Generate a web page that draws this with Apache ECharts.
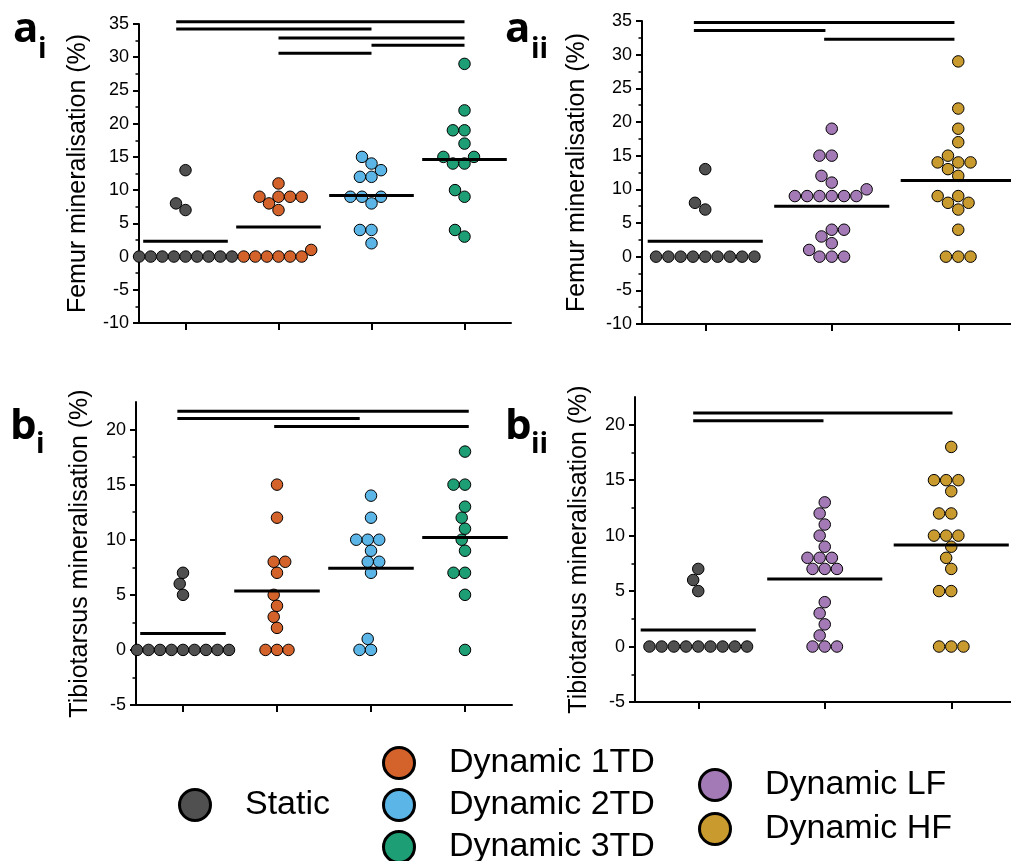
<!DOCTYPE html>
<html>
<head>
<meta charset="utf-8">
<title>mineralisation</title>
<script src="https://cdn.jsdelivr.net/npm/echarts@6/dist/echarts.min.js"></script>
<style>
  html, body { margin: 0; padding: 0; background: #fff; }
  #chart { width: 1011px; height: 861px; }
</style>
</head>
<body>
<div id="chart"></div>
<script>
// groups
const groupsI = ["Static", "Dynamic 1TD", "Dynamic 2TD", "Dynamic 3TD"];
const groupsII = ["Static", "Dynamic LF", "Dynamic HF"];

// femur mineralisation (%) per bird
const femurStatic = [0, 0, 0, 0, 0, 0, 0, 0, 0, 7, 8, 13];
const femur1TD = [0, 0, 0, 0, 0, 0, 1, 7, 8, 9, 9, 9, 9, 11];
const femur2TD = [2, 4, 4, 8, 9, 9, 9, 12, 12, 13, 14, 15];
const femur3TD = [3, 4, 9, 10, 14, 14, 15, 15, 17, 19, 19, 22, 29];
const femurLF = [0, 0, 0, 1, 2, 3, 4, 4, 9, 9, 9, 9, 9, 9, 10, 11, 12, 15, 15, 19];
const femurHF = [0, 0, 0, 4, 7, 8, 8, 9, 9, 12, 13, 14, 14, 14, 15, 17, 19, 22, 29];

// tibiotarsus mineralisation (%)
const tibiaStatic = [0, 0, 0, 0, 0, 0, 0, 0, 0, 5, 6, 7];
const tibia1TD = [0, 0, 0, 2, 3, 4, 5, 7, 8, 8, 12, 15];
const tibia2TD = [0, 0, 1, 7, 8, 8, 9, 10, 10, 10, 12, 14];
const tibia3TD = [0, 5, 7, 7, 9, 10, 11, 12, 13, 15, 15, 18];
const tibiaLF = [0, 0, 0, 1, 2, 3, 4, 7, 7, 7, 8, 8, 8, 9, 10, 11, 12, 13];
const tibiaHF = [0, 0, 0, 5, 5, 7, 8, 9, 10, 10, 10, 12, 12, 14, 15, 15, 15, 18];

// group means (horizontal bars)
const meanFemurI = [2.3, 4.45, 9.2, 14.6];
const meanFemurII = [2.3, 7.5, 11.3];
const meanTibiaI = [1.5, 5.35, 7.4, 10.2];
const meanTibiaII = [1.5, 6.1, 9.15];

// significance bars: [from, to, level]
const sigFemurI = [[0.9, 4, 35.35], [0.9, 3, 34.25], [2, 4, 32.9], [3, 4, 31.8], [2, 3, 30.6]];
const sigFemurII = [[0.91, 2.97, 34.76], [0.91, 1.95, 33.6], [1.94, 2.97, 32.3]];
const sigTibiaI = [[0.94, 4.04, 21.66], [0.94, 2.88, 21.0], [1.97, 4.04, 20.27]];
const sigTibiaII = [[0.96, 3.01, 21.06], [0.96, 1.99, 20.36]];

const yTicksFemur = [-10, -5, 0, 5, 10, 15, 20, 25, 30, 35];
const yTicksTibia = [-5, 0, 5, 10, 15, 20];

const colors = {
  "Static": "#505050",
  "Dynamic 1TD": "#d4622b",
  "Dynamic 2TD": "#5bb5e6",
  "Dynamic 3TD": "#1e9e74",
  "Dynamic LF": "#a37ab6",
  "Dynamic HF": "#c99b2f"
};

const FONT = "'Liberation Sans', Arial, sans-serif";

// panel boxes in px
const panels = [
  { grid: { left: 139, top: 24, width: 372, height: 299 }, min: -10, max: 35, ticks: yTicksFemur,
    groups: groupsI, data: [femurStatic, femur1TD, femur2TD, femur3TD], means: meanFemurI, sig: sigFemurI,
    name: "Femur mineralisation (%)", nameGap: 48, D: 11.6 },
  { grid: { left: 642, top: 21, width: 379.5, height: 303 }, min: -10, max: 35, ticks: yTicksFemur,
    groups: groupsII, data: [femurStatic, femurLF, femurHF], means: meanFemurII, sig: sigFemurII,
    name: "Femur mineralisation (%)", nameGap: 52, D: 12.3 },
  { grid: { left: 136, top: 402, width: 376, height: 303 }, min: -5, max: 22.5, ticks: yTicksTibia,
    groups: groupsI, data: [tibiaStatic, tibia1TD, tibia2TD, tibia3TD], means: meanTibiaI, sig: sigTibiaI,
    name: "Tibiotarsus mineralisation (%)", nameGap: 43, D: 11.5 },
  { grid: { left: 635, top: 397, width: 379.5, height: 305 }, min: -5, max: 22.5, ticks: yTicksTibia,
    groups: groupsII, data: [tibiaStatic, tibiaLF, tibiaHF], means: meanTibiaII, sig: sigTibiaII,
    name: "Tibiotarsus mineralisation (%)", nameGap: 43, D: 12.2 }
];

// simple beeswarm: put each point as close to the centre as it can go
function swarm(vals, kY, D) {
  const sorted = vals.slice().sort((a, b) => a - b);
  const placed = [];
  sorted.forEach(v => {
    const y = v * kY;
    const cands = [0];
    placed.forEach(p => {
      const dy = Math.abs(p.y - y);
      if (dy < D) {
        const dx = Math.sqrt(D * D - dy * dy);
        cands.push(p.x + dx, p.x - dx);
      }
    });
    const ok = cands.filter(x => placed.every(p => (p.x - x) ** 2 + (p.y - y) ** 2 >= D * D - 0.01));
    ok.sort((a, b) => {
      const d = Math.abs(a) - Math.abs(b);
      return Math.abs(d) < 1e-6 ? a - b : d;
    });
    placed.push({ x: ok[0], y: y, v: v });
  });
  return placed;
}

const grid = [], xAxis = [], yAxis = [], series = [];

panels.forEach((p, i) => {
  const n = p.groups.length;
  grid.push(Object.assign({ outerBoundsMode: "none", containLabel: false }, p.grid));
  const pxPerCat = p.grid.width / n;
  const kY = p.grid.height / (p.max - p.min);

  xAxis.push({
    type: "value", gridIndex: i, min: 0.5, max: n + 0.5,
    axisLine: { onZero: false, lineStyle: { color: "#000", width: 2 } },
    axisTick: { show: true, length: 7, lineStyle: { color: "#000", width: 2 },
      customValues: p.groups.map((g, k) => k + 1) },
    axisLabel: { show: false },
    splitLine: { show: false }
  });

  yAxis.push({
    type: "value", gridIndex: i, min: p.min, max: p.max, interval: 5,
    name: p.name, nameLocation: "middle", nameRotate: 90, nameGap: p.nameGap,
    nameTextStyle: { fontFamily: FONT, fontSize: 25, color: "#000" },
    axisLine: { show: true, onZero: false, lineStyle: { color: "#000", width: 2 } },
    axisTick: { show: true, length: 6, lineStyle: { color: "#000", width: 2 }, customValues: p.ticks },
    minorTick: { show: true, splitNumber: 2, length: 3.5, lineStyle: { color: "#000", width: 1.5 } },
    axisLabel: { fontFamily: FONT, fontSize: 18, color: "#000", margin: 10, customValues: p.ticks },
    splitLine: { show: false },
    minorSplitLine: { show: false }
  });

  p.groups.forEach((g, k) => {
    const pts = swarm(p.data[k], kY, p.D);
    series.push({
      name: g, type: "scatter", xAxisIndex: i, yAxisIndex: i,
      symbol: "circle", symbolSize: 11.5, clip: false, z: 2,
      itemStyle: { color: colors[g], borderColor: "#000", borderWidth: 1, opacity: 1 },
      data: pts.map(q => [k + 1 + q.x / pxPerCat, q.v])
    });
    // mean bar
    series.push({
      name: "mean", type: "line", xAxisIndex: i, yAxisIndex: i, silent: true,
      symbol: "none", clip: false, z: 4,
      lineStyle: { color: "#000", width: 3 },
      data: [[k + 1 - 0.455, p.means[k]], [k + 1 + 0.455, p.means[k]]]
    });
  });

  p.sig.forEach(s => {
    series.push({
      name: "sig", type: "line", xAxisIndex: i, yAxisIndex: i, silent: true,
      symbol: "none", clip: false, z: 4,
      lineStyle: { color: "#000", width: 3 },
      data: [[s[0], s[2]], [s[1], s[2]]]
    });
  });
});

// panel letters
function letter(x, y, t, size) {
  return { type: "text", x: x, y: y, silent: true,
    style: { text: t, fill: "#000", font: "bold " + size + "px 'Open Sans', sans-serif",
      textAlign: "left", textVerticalAlign: "middle" } };
}

// one legend per entry so each can sit where the figure has it
function legendItem(name, cx, cy) {
  return {
    data: [name], left: cx - 23, top: cy - 20,
    icon: "circle", itemWidth: 90, itemHeight: 31, selectedMode: false,
    itemStyle: { borderColor: "#000", borderWidth: 3 },
    textStyle: { fontFamily: FONT, fontSize: 34, color: "#000" }
  };
}

const option = {
  backgroundColor: "#fff",
  animation: false,
  grid: grid,
  xAxis: xAxis,
  yAxis: yAxis,
  series: series,
  legend: [
    legendItem("Static", 196, 803),
    legendItem("Dynamic 1TD", 400, 761),
    legendItem("Dynamic 2TD", 400, 803),
    legendItem("Dynamic 3TD", 400, 845),
    legendItem("Dynamic LF", 716, 783),
    legendItem("Dynamic HF", 716, 827)
  ],
  graphic: [
    letter(13, 30, "a", 42), letter(38, 50, "i", 28),
    letter(505, 30, "a", 42), letter(531, 50, "ii", 28),
    letter(10, 427, "b", 42), letter(36, 445, "i", 28),
    letter(505, 427, "b", 42), letter(531, 445, "ii", 28)
  ]
};

const chart = echarts.init(document.getElementById("chart"));
chart.setOption(option);
</script>
</body>
</html>
